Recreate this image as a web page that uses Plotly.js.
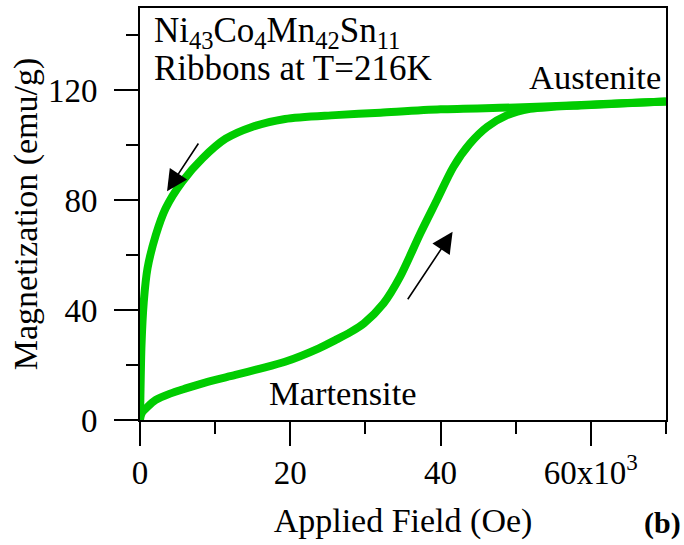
<!DOCTYPE html>
<html>
<head>
<meta charset="utf-8">
<script src="https://cdn.plot.ly/plotly-3.0.1.min.js"></script>
<style>
  html, body { margin: 0; padding: 0; background: #ffffff; }
  #chart { width: 684px; height: 545px; }
</style>
</head>
<body>
<div id="chart"></div>
<script>
// Increasing-field branch (Martensite -> Austenite)
const lowerField = [0, 100, 300, 1000, 2100, 4000, 6100, 9000, 12700, 16000, 19300, 23800, 26000, 28000, 29800, 32400, 34600, 37300, 39500, 41700, 43900, 46200, 48800, 51900, 55000, 58600, 64000, 70000];
const lowerM     = [0, 1.5, 2.8, 4.8, 7.3, 9.6, 11.5, 13.9, 16.4, 18.7, 21.2, 26.1, 29.1, 32.0, 35.2, 42.4, 52.1, 67.9, 80.0, 92.1, 100.6, 106.7, 110.9, 113.3, 114.0, 114.5, 115.2, 116.0];

// Decreasing-field branch (Austenite -> back to zero)
const upperField = [70000, 64000, 58000, 50000, 40000, 32000, 26000, 19300, 14900, 11400, 8300, 5600, 3400, 2100, 1000, 500, 200, 50, 0];
const upperM     = [116.0, 115.3, 114.6, 113.8, 113.1, 111.9, 111.0, 109.6, 106.7, 102.4, 95.2, 86.7, 77.0, 67.3, 55.2, 43.0, 27.3, 8.0, 0];

// Axis ticks
const xTickVals = [0, 20000, 40000, 60000];
const xTickText = ['0', '20', '40', '60x10<sup>3</sup>'];
const xMinorVals = [10000, 30000, 50000, 70000];
const yTickVals = [0, 40, 80, 120];
const yTickText = ['0', '40', '80', '120'];
const yMinorVals = [20, 60, 100, 140];

// Text labels
const sampleName = 'Ni<sub>43</sub>Co<sub>4</sub>Mn<sub>42</sub>Sn<sub>11</sub>';
const sampleInfo = 'Ribbons at T=216K';
const phaseHigh = 'Austenite';
const phaseLow = 'Martensite';
const panelLabel = '<b>(b)</b>';
const xTitle = 'Applied Field (Oe)';
const yTitle = 'Magnetization (emu/g)';

// Arrow endpoints (tail -> head) in data units
const arrowDown = {tail: [7900, 101.2], head: [3600, 83.3]};
const arrowUp = {tail: [35500, 43.4], head: [41600, 68.5]};

const FONT = 'Liberation Serif, Times New Roman, serif';
const GREEN = 'rgb(0,204,0)';

const lineStyle = {color: GREEN, width: 8, shape: 'spline', smoothing: 0.8};

const traces = [
  {x: lowerField, y: lowerM, mode: 'lines', line: lineStyle, hoverinfo: 'skip', showlegend: false},
  {x: upperField, y: upperM, mode: 'lines', line: lineStyle, hoverinfo: 'skip', showlegend: false}
];

function arrow(a) {
  return {
    x: a.head[0], y: a.head[1], xref: 'x', yref: 'y',
    ax: a.tail[0], ay: a.tail[1], axref: 'x', ayref: 'y',
    showarrow: true, arrowhead: 2, arrowsize: 2.6, arrowwidth: 1.6,
    arrowcolor: '#000', standoff: 0, startstandoff: 0, text: ''
  };
}

const layout = {
  width: 684, height: 545,
  margin: {l: 140, r: 18, t: 8, b: 125},
  paper_bgcolor: '#ffffff', plot_bgcolor: '#ffffff',
  font: {family: FONT, size: 32, color: '#000'},
  showlegend: false,
  xaxis: {
    range: [0, 70000], autorange: false,
    tickmode: 'array', tickvals: xTickVals, ticktext: xTickText,
    ticks: 'outside', ticklen: 24, tickwidth: 2, tickcolor: '#000',
    ticklabelstandoff: -2,
    minor: {tickmode: 'array', tickvals: xMinorVals, ticks: 'outside', ticklen: 12, tickwidth: 2, tickcolor: '#000', showgrid: false},
    showline: true, linewidth: 2, linecolor: '#000', mirror: true,
    showgrid: false, zeroline: false, layer: 'below traces',
    tickfont: {family: FONT, size: 33, color: '#000'},
    title: {text: xTitle, font: {family: FONT, size: 34, color: '#000'}, standoff: 19},
    automargin: false
  },
  yaxis: {
    range: [0, 150], autorange: false,
    tickmode: 'array', tickvals: yTickVals, ticktext: yTickText,
    ticks: 'outside', ticklen: 24, tickwidth: 2, tickcolor: '#000',
    ticklabelstandoff: 10,
    minor: {tickmode: 'array', tickvals: yMinorVals, ticks: 'outside', ticklen: 12, tickwidth: 2, tickcolor: '#000', showgrid: false},
    showline: true, linewidth: 2, linecolor: '#000', mirror: true,
    showgrid: false, zeroline: false, layer: 'below traces',
    tickfont: {family: FONT, size: 33, color: '#000'},
    title: {text: yTitle, font: {family: FONT, size: 34, color: '#000'}, standoff: 0},
    automargin: false
  },
  annotations: [
    {text: sampleName, xref: 'paper', yref: 'paper', x: 0.022, y: 0.94, xanchor: 'left', yanchor: 'middle', showarrow: false, font: {family: FONT, size: 35, color: '#000'}},
    {text: sampleInfo, xref: 'paper', yref: 'paper', x: 0.022, y: 0.854, xanchor: 'left', yanchor: 'middle', showarrow: false, font: {family: FONT, size: 35, color: '#000'}},
    {text: phaseHigh, xref: 'x', yref: 'y', x: 60600, y: 125, xanchor: 'center', yanchor: 'middle', showarrow: false, font: {family: FONT, size: 34.5, color: '#000'}},
    {text: phaseLow, xref: 'x', yref: 'y', x: 27000, y: 10, xanchor: 'center', yanchor: 'middle', showarrow: false, font: {family: FONT, size: 34.5, color: '#000'}},
    {text: panelLabel, xref: 'paper', yref: 'paper', x: 0.993, y: -0.249, xanchor: 'center', yanchor: 'middle', showarrow: false, font: {family: FONT, size: 30, color: '#000'}},
    arrow(arrowDown),
    arrow(arrowUp)
  ]
};

Plotly.newPlot('chart', traces, layout, {staticPlot: true, displayModeBar: false});
</script>
</body>
</html>
